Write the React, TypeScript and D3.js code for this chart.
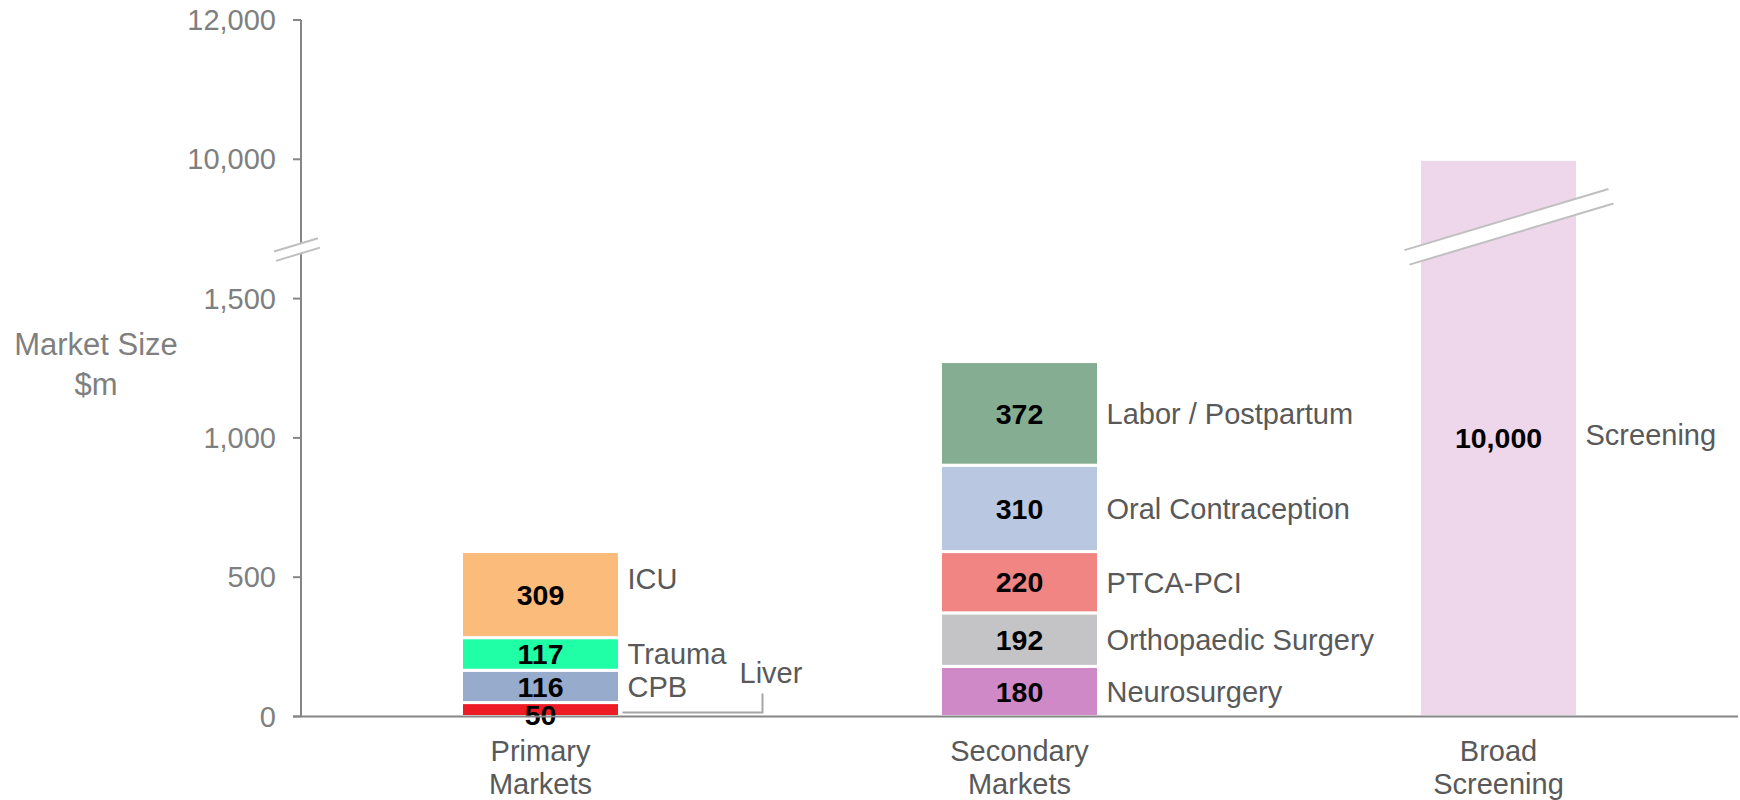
import React from 'react';
import * as d3 from 'd3';

// categories on the x axis
const markets = ['Primary Markets', 'Secondary Markets', 'Broad Screening'];
const marketLines = [['Primary', 'Markets'], ['Secondary', 'Markets'], ['Broad', 'Screening']];

// stacked segments, bottom to top
const primaryNames = ['Liver', 'CPB', 'Trauma', 'ICU'];
const primaryValues = [50, 116, 117, 309];
const primaryColors = ['#ED1C24', '#97ACCC', '#20FFA6', '#FBBB7A'];

const secondaryNames = ['Neurosurgery', 'Orthopaedic Surgery', 'PTCA-PCI', 'Oral Contraception', 'Labor / Postpartum'];
const secondaryValues = [180, 192, 220, 310, 372];
const secondaryColors = ['#CE89C6', '#C4C4C6', '#F08583', '#B9C8E0', '#84AD91'];

const screeningNames = ['Screening'];
const screeningValues = [10000];
const screeningColors = ['#EFD7EB'];

// y axis ticks (axis is broken between 1,500 and 10,000)
const yTicks = [0, 500, 1000, 1500, 10000, 12000];

const W = 1740;
const H = 800;
const plotLeft = 301;
const plotRight = 1738;
const barWidth = 158;

const App = () => {
    const x = d3.scalePoint<string>().domain(markets).range([plotLeft, plotRight]).padding(0.5);

    // piecewise scale: equal spacing per tick, compressed across the break
    const step = (716.5 - 20) / 5;
    const y = d3.scaleLinear()
        .domain([0, 1500, 10000, 12000])
        .range([716.5, 716.5 - 3 * step, 716.5 - 4 * step, 20]);

    const fmt = d3.format(',');

    const groups = [
        { market: markets[0], names: primaryNames, values: primaryValues, colors: primaryColors },
        { market: markets[1], names: secondaryNames, values: secondaryValues, colors: secondaryColors },
        { market: markets[2], names: screeningNames, values: screeningValues, colors: screeningColors },
    ];

    const labelNudge: Record<string, number> = { ICU: -16, Liver: 4 };

    const segs = groups.flatMap(g => {
        const tops = d3.cumsum(g.values);
        return g.values.map((v, i) => ({
            market: g.market,
            name: g.names[i],
            value: v,
            color: g.colors[i],
            y0: tops[i] - v,
            y1: tops[i],
        }));
    });

    // break marks
    const breakAt = (frac: number) => y(1500) + (y(10000) - y(1500)) * frac;
    const slope = -0.3;
    const breakShape = (cx: number, cy: number, half: number, gap: number) => {
        const a = [cx - half, cy - slope * half - gap / 2];
        const b = [cx + half, cy + slope * half - gap / 2];
        const c = [cx + half, cy + slope * half + gap / 2];
        const d = [cx - half, cy - slope * half + gap / 2];
        return { a, b, c, d };
    };
    const axisBreak = breakShape(plotLeft - 5, breakAt(0.35), 22, 10);
    const barBreak = breakShape(x(markets[2])! + 8, breakAt(0.51), 102, 16);

    const liverSeg = segs.find(s => s.name === 'Liver')!;
    const primaryRight = x(markets[0])! + barWidth / 2;
    const liverMid = (y(liverSeg.y0) + y(liverSeg.y1)) / 2;

    const font = '"Liberation Sans", Arial, sans-serif';

    return (
        <svg width={W} height={H} style={{ position: 'absolute', left: 0, top: 0 }} fontFamily={font}>
            <rect width={W} height={H} fill="#fff" />

            {/* bars */}
            {segs.map(s => (
                <rect
                    key={s.market + s.name}
                    x={x(s.market)! - barWidth / 2}
                    y={y(s.y1)}
                    width={barWidth}
                    height={y(s.y0) - y(s.y1)}
                    fill={s.color}
                    stroke="#fff"
                    strokeWidth={3}
                />
            ))}

            {/* bar break */}
            {[barBreak].map((b, i) => (
                <g key={i}>
                    <polygon points={[b.a, b.b, b.c, b.d].map(p => p.join(',')).join(' ')} fill="#fff" />
                    <line x1={b.a[0]} y1={b.a[1]} x2={b.b[0]} y2={b.b[1]} stroke="#BFBFBF" strokeWidth={2} />
                    <line x1={b.d[0] + 5} y1={b.d[1] + slope * 5} x2={b.c[0] + 5} y2={b.c[1] + slope * 5} stroke="#BFBFBF" strokeWidth={2} />
                </g>
            ))}

            {/* value labels */}
            {segs.map(s => (
                <text
                    key={'v' + s.market + s.name}
                    x={x(s.market)!}
                    y={(y(s.y0) + y(s.y1)) / 2 + (s.name === 'Liver' ? 5 : 0)}
                    dy="0.36em"
                    textAnchor="middle"
                    fontWeight="bold"
                    fontSize={28.5}
                    fill="#000"
                >
                    {fmt(s.value)}
                </text>
            ))}

            {/* segment names */}
            {segs.filter(s => s.name !== 'Liver').map(s => (
                <text
                    key={'n' + s.market + s.name}
                    x={x(s.market)! + barWidth / 2 + 8}
                    y={(y(s.y0) + y(s.y1)) / 2 + (labelNudge[s.name] || 0) - (s.name === 'Screening' ? 3 : 0)}
                    dy="0.36em"
                    fontSize={29}
                    fill="#595959"
                >
                    {s.name}
                </text>
            ))}

            {/* Liver callout */}
            <polyline
                points={`${primaryRight + 3},${liverMid + 3} ${primaryRight + 143},${liverMid + 3} ${primaryRight + 143},${liverMid - 16}`}
                fill="none"
                stroke="#A6A6A6"
                strokeWidth={2}
            />
            <text x={primaryRight + 120} y={liverMid - 27} fontSize={29} fill="#595959">Liver</text>

            {/* y axis */}
            <line x1={plotLeft} x2={plotLeft} y1={y(0)} y2={y(12000)} stroke="#868686" strokeWidth={2} />
            {yTicks.map(t => (
                <g key={t} transform={`translate(0,${y(t)})`}>
                    <line x1={plotLeft - 8} x2={plotLeft} stroke="#868686" strokeWidth={2} />
                    <text x={plotLeft - 25} dy="0.35em" textAnchor="end" fontSize={29} fill="#7F7F7F">{fmt(t)}</text>
                </g>
            ))}

            {/* axis break */}
            <polygon points={[axisBreak.a, axisBreak.b, axisBreak.c, axisBreak.d].map(p => p.join(',')).join(' ')} fill="#fff" />
            <line x1={axisBreak.a[0]} y1={axisBreak.a[1]} x2={axisBreak.b[0]} y2={axisBreak.b[1]} stroke="#BFBFBF" strokeWidth={2} />
            <line x1={axisBreak.d[0] + 2} y1={axisBreak.d[1] + slope * 2} x2={axisBreak.c[0] + 2} y2={axisBreak.c[1] + slope * 2} stroke="#BFBFBF" strokeWidth={2} />

            {/* baseline */}
            <line x1={plotLeft - 8} x2={plotRight} y1={y(0)} y2={y(0)} stroke="#868686" strokeWidth={2} />

            {/* x labels */}
            {markets.map((m, i) => (
                <text key={m} x={x(m)!} textAnchor="middle" fontSize={29} fill="#595959">
                    {marketLines[i].map((l, j) => (
                        <tspan key={j} x={x(m)!} y={761 + j * 33}>{l}</tspan>
                    ))}
                </text>
            ))}

            {/* y title */}
            <text textAnchor="middle" fontSize={31} fill="#7F7F7F">
                <tspan x={96} y={355}>Market Size</tspan>
                <tspan x={96} y={395}>$m</tspan>
            </text>
        </svg>
    );
};

export default App;
